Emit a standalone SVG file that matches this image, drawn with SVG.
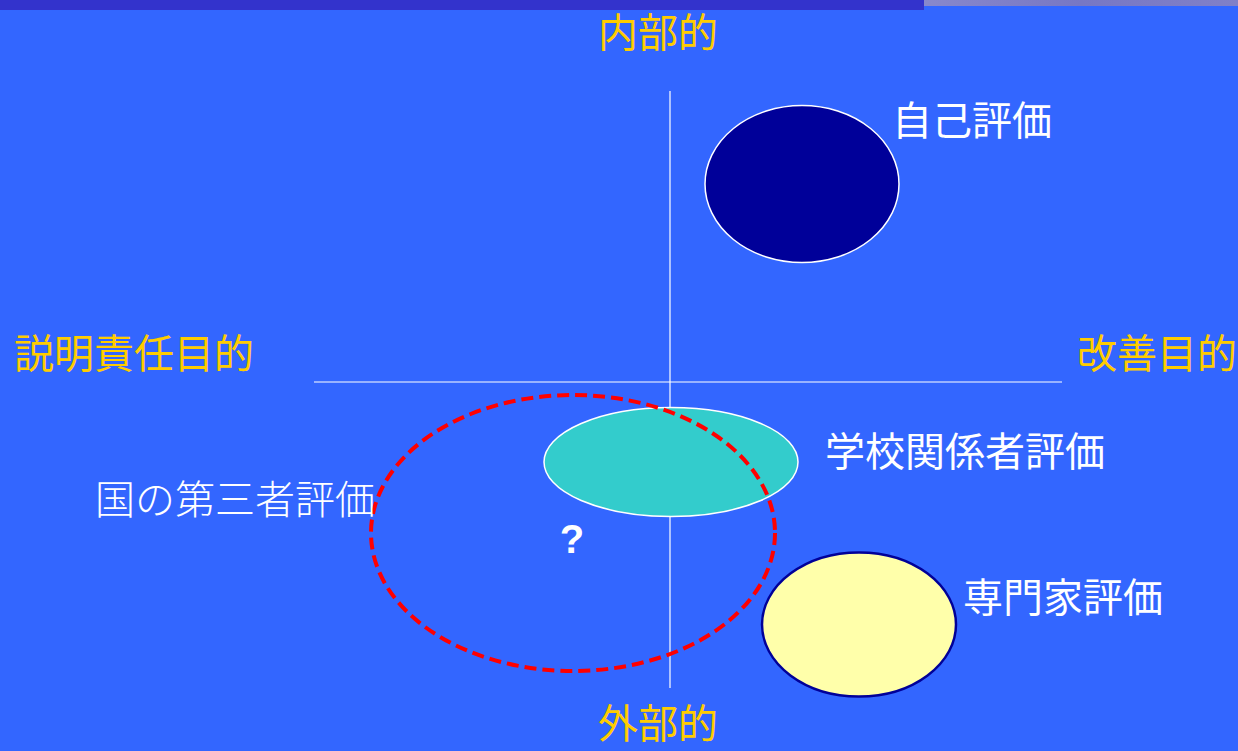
<svg xmlns="http://www.w3.org/2000/svg" width="1238" height="751" viewBox="0 0 1238 751">
<defs>
<linearGradient id="gbar" x1="0" y1="0" x2="1" y2="0">
<stop offset="0" stop-color="#8888cc"/>
<stop offset="0.5" stop-color="#7777c4"/>
<stop offset="1" stop-color="#8080c8"/>
</linearGradient>
</defs>
<style>
text{font-family:"Noto Sans CJK JP","Noto Sans CJK SC",sans-serif;font-size:40px}
.ax{fill:#FFCC00}
.lb{fill:#ffffff}
.axis{stroke:#ffffff;stroke-width:1.2;fill:none}
</style>
<rect x="0" y="0" width="1238" height="751" fill="#3366FF"/>
<rect x="0" y="0" width="924" height="10" fill="#3333CC"/>
<rect x="924" y="0" width="314" height="6" fill="url(#gbar)"/>
<g id="connectors">
<line class="axis" x1="670" y1="91" x2="670" y2="688"/>
<line class="axis" x1="314" y1="382" x2="1062" y2="382"/>
</g>
<g id="axis-labels">
<text class="ax" x="658" y="47" text-anchor="middle">内部的</text>
<text class="ax" x="658" y="738" text-anchor="middle">外部的</text>
<text class="ax" x="14" y="368">説明責任目的</text>
<text class="ax" x="1077" y="368">改善目的</text>
</g>
<g id="self">
<ellipse cx="802" cy="184" rx="97" ry="78.5" fill="#000099" stroke="#ffffff" stroke-width="1.5"/>
<text class="lb" x="892" y="135">自己評価</text>
</g>
<g id="school">
<ellipse cx="671" cy="462" rx="127" ry="54.5" fill="#33CCCC" stroke="#ffffff" stroke-width="1.5"/>
<text class="lb" x="825" y="466">学校関係者評価</text>
</g>
<g id="expert">
<ellipse cx="859" cy="624.5" rx="97" ry="72" fill="#FFFFAA" stroke="#000099" stroke-width="2.5"/>
<text class="lb" x="963" y="612">専門家評価</text>
</g>
<g id="national">
<ellipse cx="573" cy="533" rx="202" ry="138" fill="none" stroke="#FF0000" stroke-width="4" stroke-dasharray="12,6"/>
<text class="lb" x="95" y="514" style="font-weight:300">国の第三者評価</text>
<text class="lb" x="572" y="553" text-anchor="middle" style="font-size:40px;font-weight:bold;font-family:'Liberation Sans',sans-serif">?</text>
</g>
</svg>
